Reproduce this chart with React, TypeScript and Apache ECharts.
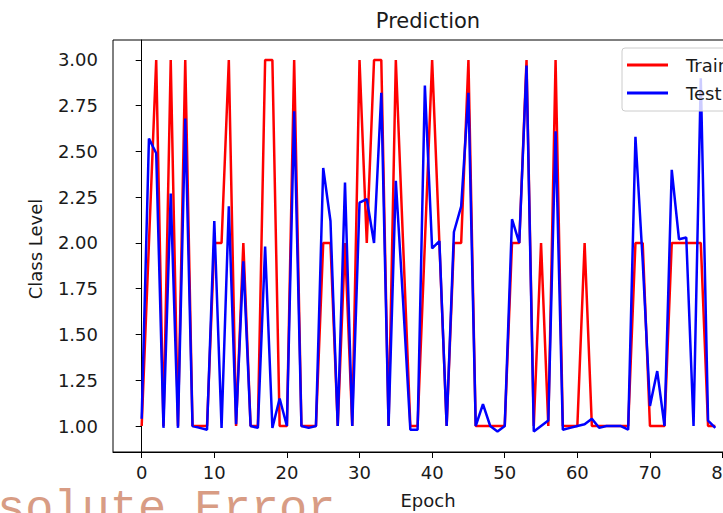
import React, { useEffect, useRef } from "react";
import * as echarts from "echarts";

const seriesNames = ["Train", "Test"];
const trainValues = [
  1, 2, 3, 1, 3, 1, 3, 1, 1, 1,
  2, 2, 3, 1, 2, 1, 1, 3, 3, 1,
  1, 3, 1, 1, 1, 2, 2, 1, 2, 1,
  3, 2, 3, 3, 1, 3, 2, 1, 1, 2,
  3, 2, 1, 2, 2, 3, 1, 1, 1, 1,
  1, 2, 2, 3, 1, 2, 1, 3, 1, 1,
  1, 2, 1, 1, 1, 1, 1, 1, 2, 2,
  1, 1, 1, 2, 2, 2, 2, 2, 1, 1,
];
const testValues = [
  1.04, 2.57, 2.49, 0.99, 2.27, 0.99, 2.68, 1.0, 0.99, 0.98,
  2.12, 0.99, 2.2, 1.01, 1.9, 1.0, 0.99, 1.98, 0.99, 1.15,
  1.0, 2.72, 1.0, 0.99, 1.0, 2.41, 2.12, 1.0, 2.33, 1.0,
  2.22, 2.24, 2.0, 2.82, 1.0, 2.34, 1.68, 0.98, 0.98, 2.86,
  1.97, 2.01, 1.0, 2.06, 2.2, 2.82, 1.0, 1.12, 1.0, 0.97,
  1.0, 2.13, 2.0, 2.97, 0.97, 1.0, 1.03, 2.61, 0.98, 0.99,
  1.0, 1.01, 1.04, 0.99, 1.0, 1.0, 1.0, 0.98, 2.58, 1.9,
  1.11, 1.3, 1.0, 2.4, 2.02, 2.03, 1.0, 2.9, 1.03, 0.99,
];
const yTicks = [1.0, 1.25, 1.5, 1.75, 2.0, 2.25, 2.5, 2.75, 3.0];
const xTicks = [0, 10, 20, 30, 40, 50, 60, 70, 80];
const titleText = "Prediction";
const xName = "Epoch";
const yName = "Class Level";
const strayText = "solute Error";

const FONT = "DejaVu Sans";

export default function App() {
  const ref = useRef<HTMLDivElement>(null);
  useEffect(() => {
    const chart = echarts.init(ref.current!, null, { renderer: "svg" });
    const toPairs = (vals: number[]) => vals.map((v, i) => [i, v]);
    chart.setOption({
      animation: false,
      backgroundColor: "#fff",
      grid: {
        left: 113,
        top: 40,
        width: 631,
        height: 412,
        show: true,
        borderColor: "#000",
        borderWidth: 1,
        backgroundColor: "transparent",
      },
      xAxis: {
        type: "value",
        min: -3.95,
        max: 82.95,
        splitLine: { show: false },
        axisLine: { show: true, lineStyle: { color: "#000", width: 1 } },
        axisTick: {
          show: true,
          inside: false,
          length: 6,
          customValues: xTicks,
          lineStyle: { color: "#000" },
        },
        axisLabel: {
          customValues: xTicks,
          margin: 11,
          color: "#1a1a1a",
          fontFamily: FONT,
          fontSize: 18,
          formatter: (v: number) => String(v),
        },
      },
      yAxis: {
        type: "value",
        min: 0.858,
        max: 3.109,
        splitLine: { show: false },
        axisLine: { show: true, lineStyle: { color: "#000", width: 1 } },
        axisTick: {
          show: true,
          inside: false,
          length: 6,
          customValues: yTicks,
          lineStyle: { color: "#000" },
        },
        axisLabel: {
          customValues: yTicks,
          margin: 15,
          color: "#1a1a1a",
          fontFamily: FONT,
          fontSize: 18,
          formatter: (v: number) => v.toFixed(2),
        },
      },
      legend: {
        orient: "vertical",
        left: 622,
        top: 48,
        z: 10,
        padding: [8, 10, 9, 5],
        itemGap: 10,
        itemWidth: 41,
        itemHeight: 3,
        icon: "rect",
        backgroundColor: "rgba(255,255,255,0.8)",
        borderColor: "#cccccc",
        borderWidth: 1,
        borderRadius: 3,
        textStyle: {
          fontFamily: FONT,
          fontSize: 18,
          color: "#1a1a1a",
          padding: [0, 0, 0, 13],
        },
        data: seriesNames,
      },
      series: [
        {
          name: seriesNames[0],
          type: "line",
          data: toPairs(trainValues),
          showSymbol: false,
          symbol: "none",
          color: "#ff0000",
          lineStyle: { color: "#ff0000", width: 2.5 },
          z: 2,
        },
        {
          name: seriesNames[1],
          type: "line",
          data: toPairs(testValues),
          showSymbol: false,
          symbol: "none",
          color: "#0000ff",
          lineStyle: { color: "#0000ff", width: 2.5 },
          z: 3,
        },
      ],
      graphic: [
        {
          type: "text",
          x: 428,
          y: 21,
          style: {
            text: titleText,
            fontFamily: FONT,
            fontSize: 21,
            fill: "#1a1a1a",
            align: "center",
            verticalAlign: "middle",
          },
        },
        {
          type: "text",
          x: 428,
          y: 500,
          style: {
            text: xName,
            fontFamily: FONT,
            fontSize: 18,
            fill: "#1a1a1a",
            align: "center",
            verticalAlign: "middle",
          },
        },
        {
          type: "text",
          x: 35,
          y: 249,
          rotation: Math.PI / 2,
          style: {
            text: yName,
            fontFamily: FONT,
            fontSize: 18,
            fill: "#1a1a1a",
            align: "center",
            verticalAlign: "middle",
          },
        },
        {
          type: "text",
          x: -3,
          y: 509,
          z: -1,
          style: {
            text: strayText,
            fontFamily: "Liberation Mono",
            fontSize: 47,
            fill: "#d89c84",
            align: "left",
            verticalAlign: "middle",
          },
        },
      ],
    });
    return () => chart.dispose();
  }, []);
  return (
    <div
      style={{
        position: "absolute",
        left: 0,
        top: 0,
        width: 723,
        height: 513,
        overflow: "hidden",
        background: "#fff",
      }}
    >
      <div ref={ref} style={{ width: 780, height: 513 }} />
    </div>
  );
}
